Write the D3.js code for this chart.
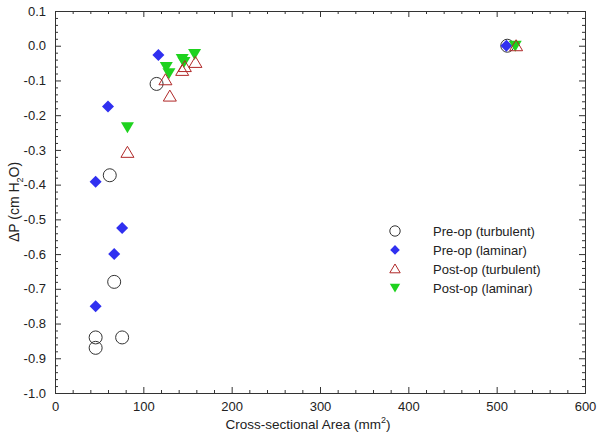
<!DOCTYPE html>
<html>
<head>
<meta charset="utf-8">
<script src="https://cdn.jsdelivr.net/npm/d3@7"></script>
<style>
  body { margin: 0; background: #fff; }
  text { font-family: "Liberation Sans", Arial, sans-serif; fill: #222; }
</style>
</head>
<body>
<div id="canvas"></div>
<script>
// data
const preTurbX = [46, 46, 76, 67, 62, 115, 512];
const preTurbY = [-0.87, -0.84, -0.84, -0.68, -0.373, -0.11, 0];
const preLamX = [46, 67, 76, 46, 60, 117, 511];
const preLamY = [-0.75, -0.60, -0.525, -0.392, -0.175, -0.027, 0];
const postTurbX = [82, 125, 130, 144, 147, 159, 522];
const postTurbY = [-0.307, -0.098, -0.145, -0.071, -0.06, -0.048, 0];
const postLamX = [82, 126, 129, 144, 146, 158, 521];
const postLamY = [-0.235, -0.061, -0.079, -0.038, -0.047, -0.024, 0];
const seriesNames = ['Pre-op (turbulent)', 'Pre-op (laminar)', 'Post-op (turbulent)', 'Post-op (laminar)'];
const xTicks = [0, 100, 200, 300, 400, 500, 600];
const yTicks = [0.1, 0.0, -0.1, -0.2, -0.3, -0.4, -0.5, -0.6, -0.7, -0.8, -0.9, -1.0];

const width = 602;
const height = 435;
const plotL = 55, plotR = 585, plotT = 11, plotB = 393;

const x = d3.scaleLinear().domain([0, 600]).range([plotL, plotR]);
const y = d3.scaleLinear().domain([-1, 0.1]).range([plotB, plotT]);

const svg = d3.select('#canvas')
    .append('svg').attr('width', width).attr('height', height);

// marker shapes, centred on their box
const shapes = {
    circle: 'M6.5,0A6.5,6.5 0 1,1 -6.5,0A6.5,6.5 0 1,1 6.5,0Z',
    diamond: 'M0,-6L6,0L0,6L-6,0Z',
    up: 'M0,-6L6.5,5L-6.5,5Z',
    down: 'M0,6L6.5,-5L-6.5,-5Z'
};
const styles = [
    { d: shapes.circle, fill: 'none', stroke: '#333', sw: 1 },
    { d: shapes.diamond, fill: '#3030f0', stroke: 'none', sw: 0 },
    { d: shapes.up, fill: 'none', stroke: '#b02828', sw: 1 },
    { d: shapes.down, fill: '#1ed21e', stroke: 'none', sw: 0 }
];

const series = [
    d3.zip(preTurbX, preTurbY),
    d3.zip(preLamX, preLamY),
    d3.zip(postTurbX, postTurbY),
    d3.zip(postLamX, postLamY)
];

// axes, ticks inward on all 4 sides
const fmt = d => d3.format('.1f')(d).replace('\u2212', '-');
const xAxisB = d3.axisBottom(x).tickValues(xTicks).tickSize(-6).tickPadding(9).tickFormat(d3.format('d'));
const xAxisT = d3.axisTop(x).tickValues(xTicks).tickSize(-6).tickFormat('');
const yAxisL = d3.axisLeft(y).tickValues(yTicks).tickSize(-6).tickPadding(9).tickFormat(fmt);
const yAxisR = d3.axisRight(y).tickValues(yTicks).tickSize(-6).tickFormat('');

const xMinor = d3.range(0, 601, 20).filter(d => d % 100 !== 0);
const yMinor = d3.range(-50, 6, 1).map(d => d / 50).filter(d => Math.abs(Math.round(d * 10) - d * 10) > 1e-6);

function minor(g, ax) {
    g.call(ax);
    g.select('.domain').remove();
}
svg.append('g').attr('transform', `translate(0,${plotB})`)
    .call(g => minor(g, d3.axisBottom(x).tickValues(xMinor).tickSize(-3).tickFormat('')));
svg.append('g').attr('transform', `translate(0,${plotT})`)
    .call(g => minor(g, d3.axisTop(x).tickValues(xMinor).tickSize(-3).tickFormat('')));
svg.append('g').attr('transform', `translate(${plotL},0)`)
    .call(g => minor(g, d3.axisLeft(y).tickValues(yMinor).tickSize(-3).tickFormat('')));
svg.append('g').attr('transform', `translate(${plotR},0)`)
    .call(g => minor(g, d3.axisRight(y).tickValues(yMinor).tickSize(-3).tickFormat('')));

svg.append('g').attr('class', 'x-axis').attr('transform', `translate(0,${plotB})`).call(xAxisB);
svg.append('g').attr('transform', `translate(0,${plotT})`).call(xAxisT);
svg.append('g').attr('class', 'y-axis').attr('transform', `translate(${plotL},0)`).call(yAxisL);
svg.append('g').attr('transform', `translate(${plotR},0)`).call(yAxisR);

svg.selectAll('.domain, .tick line').attr('stroke', '#333');
svg.selectAll('.tick text').attr('font-size', 13).attr('fill', '#222')
    .style('font-family', '"Liberation Sans", Arial, sans-serif');

// points
const drawOrder = [0, 1, 3, 2];
drawOrder.forEach(i => {
    const s = styles[i];
    svg.append('g').selectAll('path')
        .data(series[i])
        .join('path')
        .attr('d', s.d)
        .attr('transform', d => `translate(${x(d[0])},${y(d[1])})`)
        .attr('fill', s.fill)
        .attr('stroke', s.stroke)
        .attr('stroke-width', s.sw);
});

// legend (markers a bit smaller than in the plot)
const legend = svg.append('g').attr('transform', 'translate(395,231)');
seriesNames.forEach((name, i) => {
    const s = styles[i];
    const row = legend.append('g').attr('transform', `translate(0,${i * 18.9})`);
    row.append('path').attr('d', s.d)
        .attr('transform', 'scale(0.8)')
        .attr('fill', s.fill).attr('stroke', s.stroke).attr('stroke-width', s.sw / 0.8);
    row.append('text').attr('x', 38).attr('y', 5).attr('font-size', 13).text(name);
});

// axis titles
const xt = svg.append('text')
    .attr('x', 308).attr('y', 429)
    .attr('text-anchor', 'middle')
    .attr('font-size', 13.5);
xt.append('tspan').text('Cross-sectional Area (mm');
xt.append('tspan').attr('font-size', 9).attr('dy', -6).text('2');
xt.append('tspan').attr('dy', 6).text(')');

const yt = svg.append('text')
    .attr('transform', 'translate(19,202) rotate(-90)')
    .attr('text-anchor', 'middle')
    .attr('font-size', 14);
yt.append('tspan').text('\u0394P (cm H');
yt.append('tspan').attr('font-size', 9).attr('dy', 4).text('2');
yt.append('tspan').attr('dy', -4).text('O)');
</script>
</body>
</html>
